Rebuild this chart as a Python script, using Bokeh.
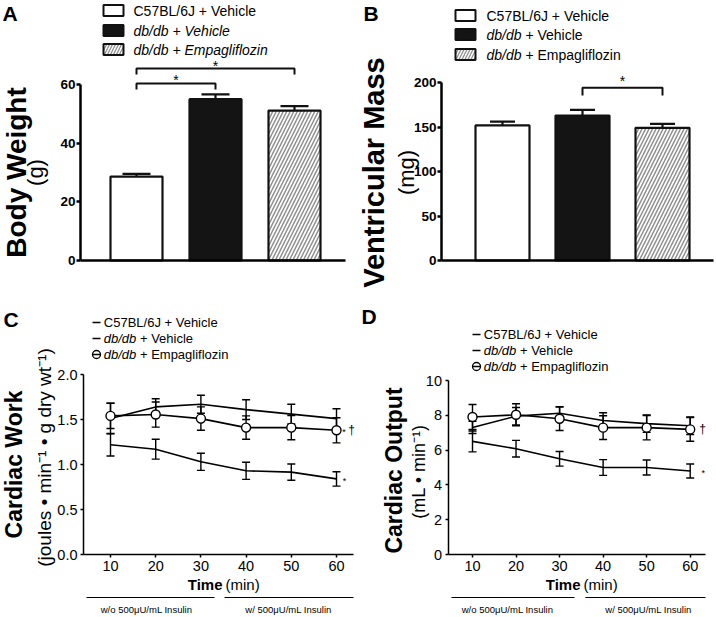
import math
from bokeh.plotting import figure
from bokeh.models import Range1d, FixedTicker, PrintfTickFormatter, Whisker, TeeHead, ColumnDataSource
from bokeh.layouts import row, column
from bokeh.core.properties import value
from bokeh.embed import file_html
from bokeh.resources import INLINE

FONT = "Liberation Sans"

# ---------------- data ----------------
groups = ["C57BL/6J + Vehicle", "db/db + Vehicle", "db/db + Empagliflozin"]
body_weight = [28.6, 55.0, 51.1]
body_weight_sem = [0.9, 1.6, 1.5]
ventricular_mass = [152.0, 163.2, 149.3]
ventricular_mass_sem = [4.4, 6.4, 4.5]
bw_ticks = [0, 20, 40, 60]
vm_ticks = [0, 50, 100, 150, 200]

time_min = [10, 20, 30, 40, 50, 60]
work_c57 = [1.51, 1.64, 1.67, 1.61, 1.56, 1.51]
work_c57_sem = [0.17, 0.09, 0.10, 0.11, 0.11, 0.11]
work_db = [1.22, 1.17, 1.03, 0.93, 0.915, 0.84]
work_db_sem = [0.125, 0.11, 0.095, 0.095, 0.09, 0.08]
work_empa = [1.54, 1.555, 1.51, 1.41, 1.41, 1.38]
work_empa_sem = [0.14, 0.14, 0.13, 0.13, 0.135, 0.14]
work_ticks = [0.0, 0.5, 1.0, 1.5, 2.0]

output_c57 = [7.3, 7.95, 8.12, 7.7, 7.52, 7.4]
output_c57_sem = [0.35, 0.5, 0.38, 0.45, 0.5, 0.5]
output_db = [6.5, 6.08, 5.5, 5.0, 5.0, 4.8]
output_db_sem = [0.6, 0.48, 0.42, 0.45, 0.43, 0.4]
output_empa = [7.9, 8.03, 7.8, 7.29, 7.29, 7.19]
output_empa_sem = [0.72, 0.63, 0.67, 0.68, 0.7, 0.68]
output_ticks = [0, 2, 4, 6, 8, 10]
time_ticks = [10, 20, 30, 40, 50, 60]
insulin_periods = ["w/o 500\u03bcU/mL Insulin", "w/ 500\u03bcU/mL Insulin"]

bar_fills = ["white", "#141414", "white"]
bar_hatches = [" ", " ", "/"]


class Panel:
    def __init__(self, W, H, xpx, xval, xs, ypx, yval, ys):
        self.W, self.H = W, H
        self.xpx, self.xval, self.xs = xpx, xval, xs
        self.ypx, self.yval, self.ys = ypx, yval, ys
        p = figure(width=W, height=H, output_backend="svg", toolbar_location=None,
                   x_range=Range1d(self.dx(0), self.dx(W)),
                   y_range=Range1d(self.dy(H), self.dy(0)), min_border=0)
        p.outline_line_color = None
        p.grid.visible = False
        p.background_fill_color = "white"
        p.border_fill_color = "white"
        self.p = p

    def dx(self, px):
        return self.xval + (px - self.xpx) / self.xs

    def dy(self, py):
        return self.yval + (self.ypx - py) / self.ys

    def px(self, x):
        return self.xpx + (x - self.xval) * self.xs

    def py(self, y):
        return self.ypx - (y - self.yval) * self.ys

    def text(self, px, py, s, size, style="normal", align="left", baseline="middle", angle=0.0):
        self.p.text(x=[self.dx(px)], y=[self.dy(py)], text=[s], text_font=value(FONT),
                    text_font_size=value(f"{size}px"), text_font_style=style,
                    text_align=align, text_baseline=baseline, angle=angle, text_color="black")


def style_axes(P, yaxis_px, xend_px, yticks, ybounds, font_size, bold, axis_w, tick_out, standoff,
               yfmt=None, xticks=None):
    p = P.p
    ya = p.yaxis[0]
    xa = p.xaxis[0]
    ya.fixed_location = P.dx(yaxis_px)
    xa.fixed_location = 0
    ya.bounds = ybounds
    xa.bounds = (P.dx(yaxis_px), P.dx(xend_px))
    for ax in (xa, ya):
        ax.axis_line_color = "black"
        ax.axis_line_width = axis_w
        ax.major_tick_line_color = "black"
        ax.major_tick_line_width = axis_w
        ax.major_tick_in = 0
        ax.major_tick_out = tick_out
        ax.minor_tick_line_color = None
        ax.major_label_text_font = FONT
        ax.major_label_text_color = "black"
        ax.major_label_text_font_size = f"{font_size}px"
        ax.major_label_text_font_style = "bold" if bold else "normal"
        ax.major_label_standoff = standoff
    ya.ticker = FixedTicker(ticks=yticks)
    if yfmt:
        ya.formatter = PrintfTickFormatter(format=yfmt)
    xa.ticker = FixedTicker(ticks=xticks if xticks is not None else [])


def legend_label(P, px, py, label, size, full_italic):
    if label.startswith("db/db") and not full_italic:
        rest = label[len("db/db"):].strip()
        P.text(px, py, "db/db", size, "italic")
        P.text(px + size * (2.502 + 0.278), py, rest, size, "normal")
    elif label.startswith("db/db"):
        P.text(px, py, label, size, "italic")
    else:
        P.text(px, py, label, size, "normal")


def bar_panel(P, vals, sems, bar_w, cap, yaxis_px, xend_px, yticks, ymax, ylabel, ysize, yunit,
              lab_x, unit_x, lab_y, box_cx, text_x, rows, full_italic, letter, letter_x, letter_y):
    idx = [i + 1 for i in range(len(vals))]
    src = ColumnDataSource(dict(x=idx, top=vals, upper=[v + e for v, e in zip(vals, sems)],
                                fill_col=bar_fills, hatch_pat=bar_hatches))
    P.p.vbar(x="x", top="top", bottom=0, width=bar_w, source=src, fill_color="fill_col",
             line_color="#111111", line_width=2.2, hatch_pattern="hatch_pat",
             hatch_color="#8f8f8f", hatch_weight=1.5, hatch_scale=7)
    P.p.add_layout(Whisker(source=src, base="x", upper="upper", lower="top", dimension="height",
                           line_width=2.2, line_color="#111111", lower_head=None,
                           upper_head=TeeHead(size=cap, line_width=2.2, line_color="#111111")))
    style_axes(P, yaxis_px, xend_px, yticks, (0, ymax), 13.5, True, 2.5, 4, 1)
    P.text(lab_x, lab_y, ylabel, ysize, "bold", "center", "middle", math.pi / 2)
    P.text(unit_x, lab_y, yunit, 22, "normal", "center", "middle", math.pi / 2)
    P.text(letter_x, letter_y, letter, 21, "bold")
    # legend
    P.p.rect(x=[P.dx(box_cx)] * 3, y=[P.dy(r) for r in rows], width=20, height=11,
             width_units="screen", height_units="screen", fill_color=bar_fills,
             line_color="#111111", line_width=2, hatch_pattern=bar_hatches,
             hatch_color="#8f8f8f", hatch_weight=1.3, hatch_scale=6)
    for g, r in zip(groups, rows):
        legend_label(P, text_x, r, g, 14, full_italic)
    return idx


def bracket(P, x0, x1, top_py, leg_py, star_py, star_size=14):
    P.p.multi_line(xs=[[x0, x0, x1, x1]], ys=[[P.dy(leg_py), P.dy(top_py), P.dy(top_py), P.dy(leg_py)]],
                   line_color="#111111", line_width=2)
    P.text(P.px((x0 + x1) / 2), star_py, "*", star_size, "normal", "center", "middle")


# ---------------- Panel A ----------------
A = Panel(357, 305, 136, 1, 79, 260, 0, 176 / 60)
ia = bar_panel(A, body_weight, body_weight_sem, 52 / 79, 28, 80, 345, bw_ticks, 60,
               "Body Weight", 28, "(g)", 16, 35, 172, 113, 133, [10, 30, 49], True, "A", 2, 12.5)
bracket(A, ia[0], ia[1], 83, 89, 79.3)
bracket(A, ia[0], ia[2], 68, 74, 65.3)

# ---------------- Panel B ----------------
B = Panel(357, 305, 145, 1, 80, 260, 0, 177.7 / 200)
ib = bar_panel(B, ventricular_mass, ventricular_mass_sem, 54 / 80, 25, 84, 356, vm_ticks, 200,
               "Ventricular Mass", 29, "(mg)", 16.5, 49, 172, 108, 129, [15, 34, 54], False, "B", 6, 12.5)
bracket(B, ib[1], ib[2], 87.3, 95, 80.5)


# ---------------- line panels ----------------
def series(P, t, v, e, marker):
    src = ColumnDataSource(dict(t=t, v=v, lo=[a - b for a, b in zip(v, e)], hi=[a + b for a, b in zip(v, e)]))
    P.p.add_layout(Whisker(source=src, base="t", lower="lo", upper="hi", dimension="height",
                           line_width=1.4, line_color="black",
                           upper_head=TeeHead(size=8, line_width=1.4, line_color="black"),
                           lower_head=TeeHead(size=8, line_width=1.4, line_color="black")))
    P.p.line("t", "v", source=src, line_width=1.6, line_color="black")
    if marker:
        P.p.scatter("t", "v", source=src, size=9, marker="circle", fill_color="white",
                    line_color="black", line_width=1.4)


def line_panel(P, c57, c57e, db, dbe, em, eme, yaxis_px, xend_px, yticks, ymax, yfmt,
               ylabel, yunit, lab_x, unit_x, lab_y, unit_y, unit_size,
               sym_x0, sym_x1, text_x, rows, letter, letter_x, letter_y,
               time_px, lines_px):
    series(P, time_min, c57, c57e, False)
    series(P, time_min, db, dbe, False)
    series(P, time_min, em, eme, True)
    style_axes(P, yaxis_px, xend_px, yticks, (0, ymax), 14.5, False, 1.5, 3, 3, yfmt, time_ticks)
    P.text(lab_x, lab_y, ylabel, 23, "bold", "center", "middle", math.pi / 2)
    P.text(unit_x, unit_y, yunit, unit_size, "normal", "center", "middle", math.pi / 2)
    P.text(letter_x, letter_y, letter, 21, "bold")
    # legend
    P.p.multi_line(xs=[[P.dx(sym_x0), P.dx(sym_x1)]] * 3, ys=[[P.dy(r), P.dy(r)] for r in rows],
                   line_color="black", line_width=1.5)
    P.p.scatter(x=[P.dx((sym_x0 + sym_x1) / 2)], y=[P.dy(rows[2])], size=8, marker="circle",
                fill_color=None, line_color="black", line_width=1.3)
    for g, r in zip(groups, rows):
        legend_label(P, text_x, r, g, 13, False)
    # x axis title
    P.text(time_px, 279, "Time", 15, "bold", "right")
    P.text(time_px + 3, 279, "(min)", 15, "normal", "left")
    # insulin periods
    P.p.multi_line(xs=[[P.dx(a), P.dx(b)] for a, b, _ in lines_px],
                   ys=[[P.dy(292), P.dy(292)] for _ in lines_px], line_color="black", line_width=1.2)
    for (a, b, c), lab in zip(lines_px, insulin_periods):
        P.text(c, 304, lab, 9.5, "normal", "center")


C = Panel(357, 310, 110, 10, 4.52, 249, 0, 90)
line_panel(C, work_c57, work_c57_sem, work_db, work_db_sem, work_empa, work_empa_sem,
           83, 353, work_ticks, 2.0, "%.1f",
           "Cardiac Work", "(joules \u2022 min\u207b\u00b9 \u2022 g dry wt\u207b\u00b9)", 13.5, 44, 159, 152, 19,
           92, 100, 103.3, [17, 33, 49], "C", 3, 13.5,
           222, [(86, 214, 146), (224, 353, 288)])
C.text(C.px(time_min[-1]) + 7.5, C.py(work_empa[-1]) + 2, "*", 9, "normal", "center")
C.text(C.px(time_min[-1]) + 15, C.py(work_empa[-1]), "\u2020", 12, "normal", "center")
C.text(C.px(time_min[-1]) + 8, C.py(work_db[-1]) + 2, "*", 9, "normal", "center")

D = Panel(357, 310, 115, 10, 4.354, 249, 0, 17.4)
line_panel(D, output_c57, output_c57_sem, output_db, output_db_sem, output_empa, output_empa_sem,
           90.5, 347.7, output_ticks, 10, None,
           "Cardiac Output", "(mL \u2022 min\u207b\u00b9)", 36.5, 61, 165, 166, 18,
           115, 123, 126.3, [29, 45, 61], "D", 4, 11,
           223, [(94, 217, 150), (228, 348, 291)])
D.text(D.px(time_min[-1]) + 12.3, D.py(output_empa[-1]), "\u2020", 12, "normal", "center")
D.text(D.px(time_min[-1]) + 13, D.py(output_db[-1]) + 2, "*", 9, "normal", "center")

layout = column(row(A.p, B.p), row(C.p, D.p))
open("out.html", "w").write(file_html(layout, INLINE))
